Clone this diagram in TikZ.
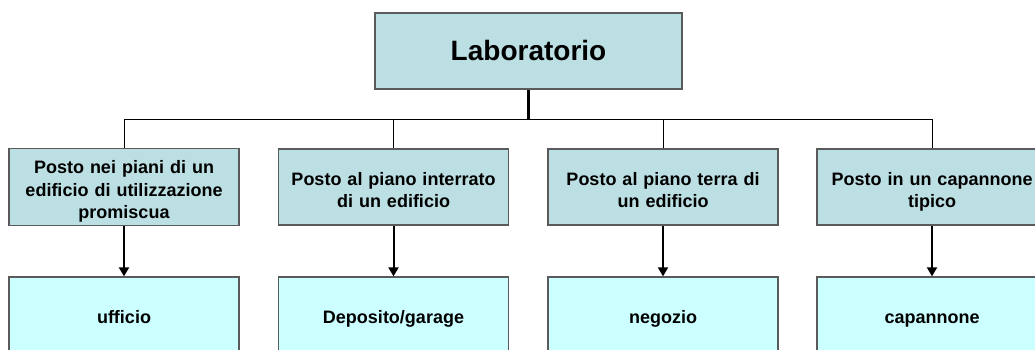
\documentclass[tikz,border=0pt]{standalone}
\usepackage{fontspec}
\setmainfont{Liberation Sans}
\usetikzlibrary{arrows.meta}
\definecolor{midfill}{HTML}{BBDFE2}
\definecolor{lowfill}{HTML}{CCFFFF}
\definecolor{edge}{HTML}{5A5A5A}
\tikzset{
  box/.style={draw=edge, line width=1.3pt, minimum width=230pt, inner sep=0pt, align=center, font=\fontsize{18}{22.5}\selectfont\bfseries, execute at begin node=\strut, execute at end node=\strut},
  midbox/.style={box, fill=midfill, minimum height=76pt, text width=224pt, execute at begin node=\rule{0pt}{25.5pt}},
  lowbox/.style={box, fill=lowfill, minimum height=84pt, text width=224pt},
  topbox/.style={box, fill=midfill, minimum width=307pt, minimum height=76pt, font=\fontsize{28}{32}\selectfont\bfseries, execute at begin node=\rule{0pt}{28pt}},
  bus/.style={draw=black, line width=1pt},
  stem/.style={draw=black, line width=2.4pt},
  down/.style={draw=black, line width=2pt, -{Triangle[width=10pt,length=9pt]}}
}
\begin{document}
\begin{tikzpicture}[x=1pt,y=-1pt]
\clip (0,0) rectangle (1035,349);
\fill[white] (0,0) rectangle (1035,349);
\node[topbox] (top) at (528.5,51) {Laboratorio};
\node[midbox] (m1) at (124,187) {Posto nei piani di un\\edificio di utilizzazione\\promiscua};
\node[midbox] (m2) at (393.5,187) {Posto al piano interrato\\di un edificio};
\node[midbox] (m3) at (663,187) {Posto al piano terra di\\un edificio};
\node[midbox] (m4) at (932,187) {Posto in un capannone\\tipico};
\node[lowbox] (b1) at (124,319) {ufficio};
\node[lowbox] (b2) at (393.5,319) {Deposito/garage};
\node[lowbox] (b3) at (663,319) {negozio};
\node[lowbox] (b4) at (932,319) {capannone};
\coordinate (busy) at (0,119);
\draw[bus] (m1.north) -- (m1.north |- busy) -- (m4.north |- busy) -- (m4.north);
\draw[bus] (m2.north) -- (m2.north |- busy);
\draw[bus] (m3.north) -- (m3.north |- busy);
\draw[stem] (top.south) -- (top.south |- busy);
\draw[down] (m1.south) -- (b1.north);
\draw[down] (m2.south) -- (b2.north);
\draw[down] (m3.south) -- (b3.north);
\draw[down] (m4.south) -- (b4.north);
\end{tikzpicture}
\end{document}
